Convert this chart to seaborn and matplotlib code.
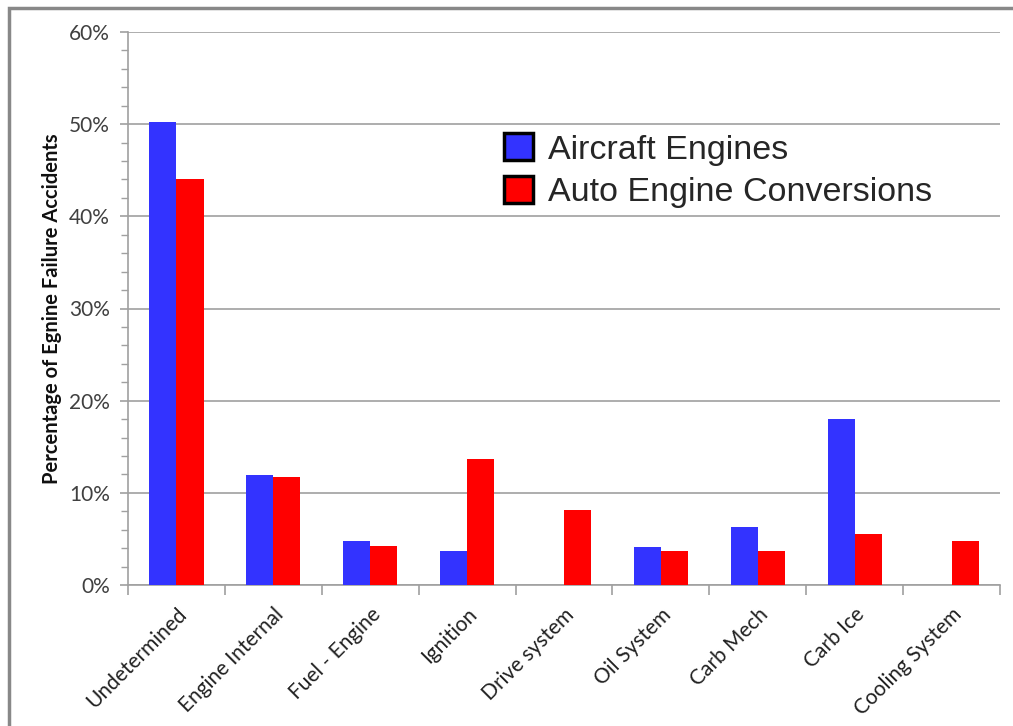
import matplotlib
matplotlib.use("Agg")
import matplotlib.pyplot as plt
import matplotlib.patches as mpatches
from matplotlib.ticker import MultipleLocator, PercentFormatter
import pandas as pd
import seaborn as sns

categories = ["Undetermined", "Engine Internal", "Fuel - Engine", "Ignition", "Drive system",
              "Oil System", "Carb Mech", "Carb Ice", "Cooling System"]
aircraft = [50.2, 11.9, 4.8, 3.7, 0.0, 4.1, 6.3, 18.0, 0.0]
auto = [44.1, 11.7, 4.2, 13.7, 8.1, 3.7, 3.7, 5.5, 4.8]
series = ["Aircraft Engines", "Auto Engine Conversions"]
colors = ["#3333ff", "#ff0000"]

df = pd.DataFrame({
    "cause": categories * 2,
    "series": [series[0]] * len(categories) + [series[1]] * len(categories),
    "pct": aircraft + auto,
})

sns.set_theme(style="white")
plt.rcParams["font.family"] = ["Lato", "DejaVu Sans"]

fig = plt.figure(figsize=(10.13, 7.26), dpi=100)
ax = fig.add_axes([128 / 1013, 1 - 585 / 726, (1000 - 128) / 1013, (585 - 32) / 726])

sns.barplot(data=df, x="cause", y="pct", hue="series", palette=colors, width=0.56,
            saturation=1, linewidth=0, ax=ax, legend=False, zorder=3)

ax.set_ylim(0, 60)
ax.set_xlim(-0.5, len(categories) - 0.5)
ax.yaxis.set_major_locator(MultipleLocator(10))
ax.yaxis.set_minor_locator(MultipleLocator(2))
ax.yaxis.set_major_formatter(PercentFormatter(decimals=0))
ax.grid(axis="y", which="major", color="#a0a0a0", linewidth=1.2, zorder=0)
for side in ["top", "right"]:
    ax.spines[side].set_visible(False)
for side in ["left", "bottom"]:
    ax.spines[side].set_color("#a0a0a0")
    ax.spines[side].set_linewidth(1.2)

ax.tick_params(axis="y", which="major", length=6, width=1.2, color="#a0a0a0",
               labelsize=15, labelcolor="#404040", pad=7, left=True)
ax.tick_params(axis="y", which="minor", length=5, width=1, color="#a0a0a0", left=True)

# category ticks sit on the group boundaries
ax.set_xticks([i + 0.5 for i in range(-1, len(categories))], minor=True)
ax.tick_params(axis="x", which="minor", length=7, width=1.2, color="#a0a0a0", bottom=True)
ax.tick_params(axis="x", which="major", length=0, labelsize=15, labelcolor="#202020", pad=14)
ax.set_xticks(range(len(categories)))
ax.set_xticklabels(categories, rotation=45, ha="right", rotation_mode="anchor")

ax.set_xlabel("")
ax.set_ylabel("Percentage of Egnine Failure Accidents", fontsize=14.5, fontweight="bold",
              color="#101010", labelpad=5)

handles = [mpatches.Patch(facecolor=c, edgecolor="black", linewidth=2.5, label=s)
           for c, s in zip(colors, series)]
ax.legend(handles=handles, loc="upper left", bbox_to_anchor=(0.431, 0.817), frameon=False,
          prop={"family": ["Liberation Sans", "DejaVu Sans"], "size": 24.5},
          handlelength=0.85, handleheight=0.85, handletextpad=0.45, labelspacing=0.3,
          borderpad=0, borderaxespad=0)

# outer chart frame, cropped at the right and bottom edges
fig.add_artist(mpatches.Rectangle((9 / 1013, -0.1), 1.2, 1 - 8 / 726 + 0.1,
                                  transform=fig.transFigure, fill=False,
                                  edgecolor="#888888", linewidth=2.5))

fig.savefig("out.png", dpi=100)
